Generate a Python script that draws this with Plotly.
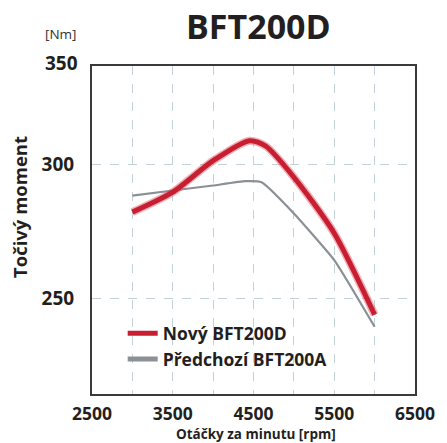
import plotly.graph_objects as go

rpm_new = [3000, 3500, 4000, 4450, 4650, 5000, 5500, 6000]
torque_new = [282.2, 289.7, 301.5, 309.0, 307.0, 295.3, 274.3, 243.7]

rpm_old = [3000, 3500, 4000, 4400, 4600, 5000, 5500, 6000]
torque_old = [288.4, 290.3, 292.2, 293.8, 293.4, 281.7, 264.2, 239.2]

x_ticks = [2500, 3000, 3500, 4000, 4500, 5000, 5500, 6000, 6500]
x_labels = ["2500", "", "3500", "", "4500", "", "5500", "", "6500"]
y_ticks = [250, 300]
y_labels = ["250", "300"]

name_new = "Nový BFT200D"
name_old = "Předchozí BFT200A"

RED = "#c81e32"
GRAY = "#8b9095"
TXT = "#231f20"
FONT = "Open Sans"

fig = go.Figure()
fig.add_trace(go.Scatter(x=rpm_old, y=torque_old, mode="lines", showlegend=False,
                         line=dict(color=GRAY, width=2.2, shape="spline", smoothing=0.4)))
fig.add_trace(go.Scatter(x=rpm_new, y=torque_new, mode="lines", showlegend=False,
                         line=dict(color="rgba(225,80,95,0.45)", width=8, shape="spline", smoothing=0.7)))
fig.add_trace(go.Scatter(x=rpm_new, y=torque_new, mode="lines", name=name_new,
                         line=dict(color=RED, width=5, shape="spline", smoothing=0.7)))
fig.add_trace(go.Scatter(x=[None], y=[None], mode="lines", name=name_old,
                         line=dict(color=GRAY, width=5)))

fig.update_layout(
    width=447, height=443,
    margin=dict(l=92, r=26, t=66, b=49),
    paper_bgcolor="white", plot_bgcolor="white",
    font=dict(family=FONT, color=TXT),
    showlegend=True,
    legend=dict(x=0.095, y=0.24, xanchor="left", yanchor="top",
                bgcolor="rgba(0,0,0,0)", tracegroupgap=0,
                font=dict(size=17.5, family=FONT, color=TXT, weight="bold")),
    title=dict(text="BFT200D", x=0.578, xanchor="center", y=0.939, yanchor="middle",
               font=dict(size=34, family=FONT, color=TXT, weight="bold")),
)

fig.update_xaxes(range=[2500, 6500], tickmode="array", tickvals=x_ticks, ticktext=x_labels,
                 showgrid=True, gridcolor="#c3d2d6", griddash="dash", gridwidth=1,
                 showline=True, linecolor="#3a3a3a", linewidth=2, mirror=True,
                 ticks="", ticklabelstandoff=3, zeroline=False,
                 tickfont=dict(size=17.5, family=FONT, color=TXT, weight="bold"))
fig.update_yaxes(range=[214, 337], tickmode="array", tickvals=y_ticks, ticktext=y_labels,
                 showgrid=True, gridcolor="#c3d2d6", griddash="dash", gridwidth=1,
                 showline=True, linecolor="#3a3a3a", linewidth=2, mirror=True,
                 ticks="", ticklabelstandoff=12, zeroline=False,
                 tickfont=dict(size=19, family=FONT, color=TXT, weight="bold"))

fig.add_annotation(text="350", xref="paper", yref="paper", x=0, y=1, xshift=-12, yshift=3,
                   xanchor="right", yanchor="middle", showarrow=False,
                   font=dict(size=19, family=FONT, color=TXT, weight="bold"))
fig.add_annotation(text="[Nm]", xref="paper", yref="paper", x=0, y=1, xshift=-13, yshift=32,
                   xanchor="right", yanchor="middle", showarrow=False,
                   font=dict(size=13.5, family=FONT, color="#333333"))
fig.add_annotation(text="Točivý moment", xref="paper", yref="paper", x=0, y=0.57, xshift=-73,
                   xanchor="center", yanchor="middle", textangle=-90, showarrow=False,
                   font=dict(size=18.5, family=FONT, color=TXT, weight="bold"))
fig.add_annotation(text="Otáčky za minutu [rpm]", xref="paper", yref="paper", x=0.507, y=0, yshift=-40,
                   xanchor="center", yanchor="middle", showarrow=False,
                   font=dict(size=13.5, family=FONT, color=TXT, weight="bold"))

fig.write_html("out.html", config={"displayModeBar": False},
               post_script="document.body.style.margin='0';document.body.style.overflow='hidden';")
